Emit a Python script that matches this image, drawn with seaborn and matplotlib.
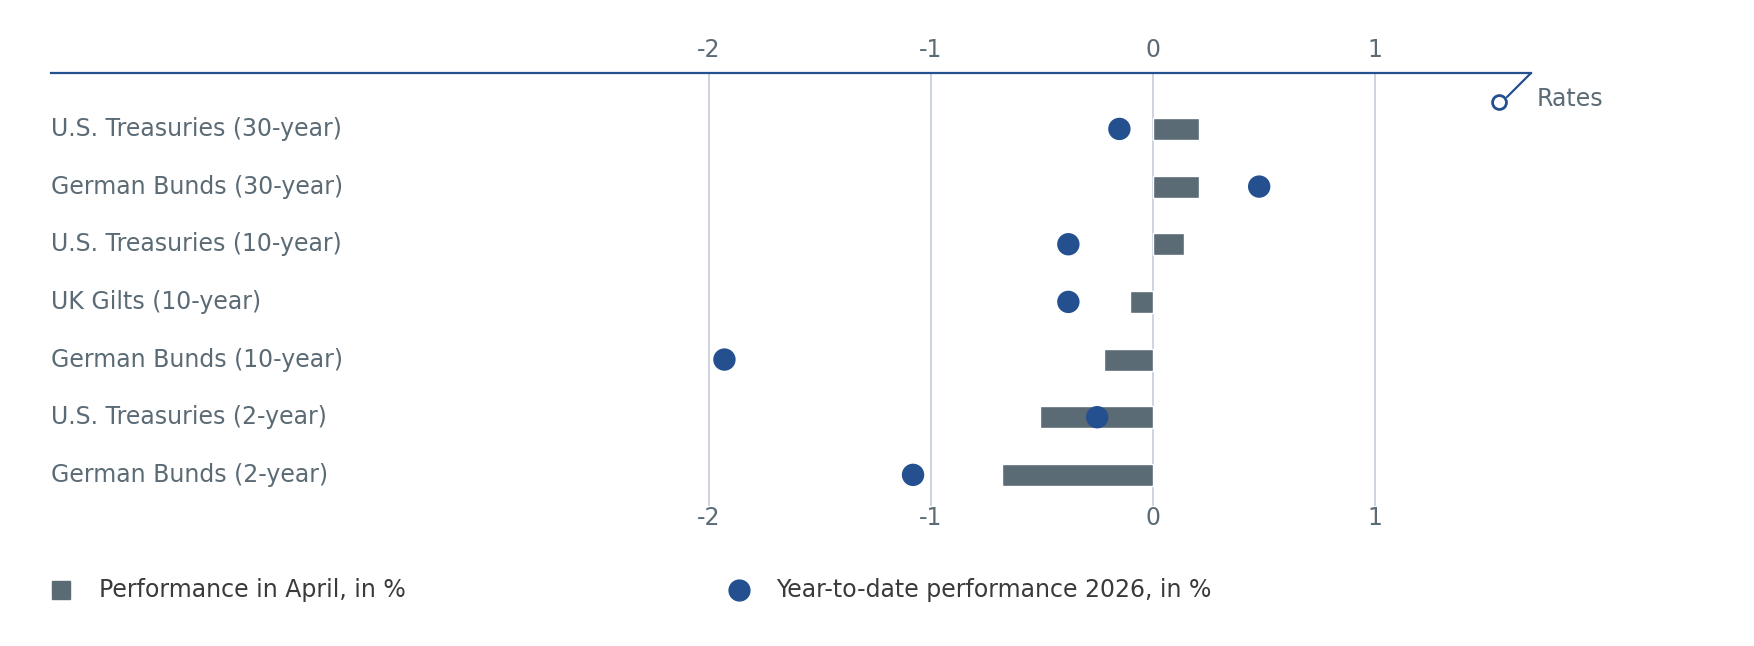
import matplotlib
matplotlib.use("Agg")
import matplotlib.pyplot as plt
import seaborn as sns
import pandas as pd
from matplotlib.lines import Line2D

categories = ["U.S. Treasuries (30-year)", "German Bunds (30-year)", "U.S. Treasuries (10-year)",
              "UK Gilts (10-year)", "German Bunds (10-year)", "U.S. Treasuries (2-year)",
              "German Bunds (2-year)"]
april = [0.21, 0.21, 0.14, -0.10, -0.22, -0.51, -0.68]
ytd = [-0.15, 0.48, -0.38, -0.38, -1.93, -0.25, -1.08]
ticks = [-2, -1, 0, 1]

sns.set_theme(style="white")
plt.rcParams['font.family'] = ['DejaVu Sans']
GRAY = "#5b6b75"; BLUE = "#24508f"; GRID = "#c9d1dc"

W, H = 1754, 646
XL = (-4.965, 1.705)
fig = plt.figure(figsize=(W/100, H/100), dpi=100)
ax = fig.add_axes([51/W, 1-506/H, (1531-51)/W, (506-73)/H])
df = pd.DataFrame({"cat": categories, "april": april, "ytd": ytd})
sns.barplot(data=df, x="april", y="cat", orient="h", color=GRAY, width=0.38,
            saturation=1, ax=ax, zorder=3)
sns.scatterplot(data=df, x="ytd", y="cat", color=BLUE, s=260, edgecolor="none", ax=ax, zorder=4)
ax.set_xlim(*XL)
ax.set_ylim(6.54, -0.97)
for t in ticks:
    ax.axvline(t, color=GRID, lw=1.3, zorder=1)
for s in ["left", "right", "bottom"]:
    ax.spines[s].set_visible(False)
ax.spines["top"].set_color(BLUE); ax.spines["top"].set_linewidth(1.6)
ax.set_xticks(ticks)
ax.set_xticklabels([str(t) for t in ticks])
ax.tick_params(axis="x", top=True, bottom=False, labeltop=True, labelbottom=False,
               length=0, labelsize=17, labelcolor=GRAY, pad=8)
ax.set_yticks([]); ax.set_xlabel(""); ax.set_ylabel("")
for i, c in enumerate(categories):
    ax.text(XL[0], i, c, ha="left", va="center", fontsize=17, color=GRAY)
for t in ticks:
    ax.text(t, 6.54, str(t), ha="center", va="top", fontsize=17, color=GRAY)
# Rates marker
fig.add_artist(Line2D([1531/W, 1507/W], [1-73/H, 1-97/H], color=BLUE, lw=1.6))
fig.add_artist(Line2D([1499/W], [1-102/H], marker="o", markersize=10, mfc="white",
                      mec=BLUE, mew=2, lw=0))
fig.text(1537/W, 1-99/H, "Rates", fontsize=17, color=GRAY, va="center")
# legend
fig.add_artist(Line2D([61/W], [1-590/H], marker="s", markersize=13, color=GRAY, lw=0))
fig.text(99/W, 1-590/H, "Performance in April, in %", fontsize=17, color="#3a3a3a", va="center")
fig.add_artist(Line2D([739/W], [1-590/H], marker="o", markersize=15, color=BLUE, lw=0))
fig.text(776/W, 1-590/H, "Year-to-date performance 2026, in %", fontsize=17, color="#3a3a3a", va="center")
fig.savefig("out.png", dpi=100)
